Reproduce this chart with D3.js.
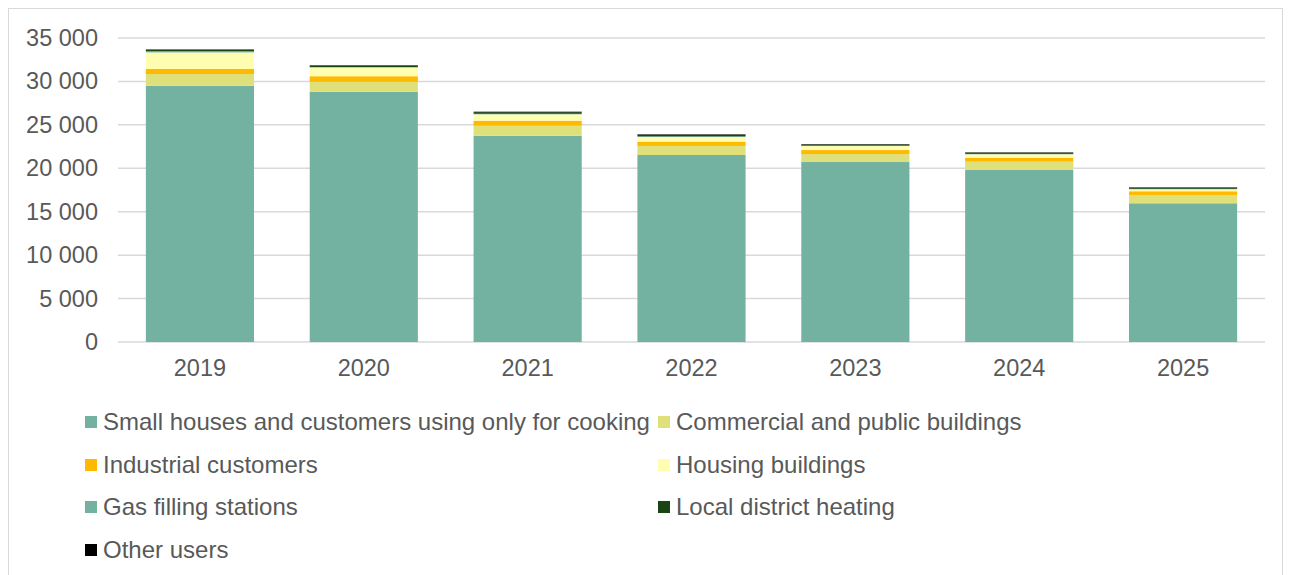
<!DOCTYPE html>
<html>
<head>
<meta charset="utf-8">
<script src="https://cdn.jsdelivr.net/npm/d3@7"></script>
<style>
  html, body { margin: 0; padding: 0; background: #fff; }
  svg { display: block; font-family: "Liberation Sans", Arial, sans-serif; }
</style>
</head>
<body>
<svg id="chart" width="1291" height="575"></svg>
<script>
// Gas consumption by customer group, stacked per year
const years = ["2019", "2020", "2021", "2022", "2023", "2024", "2025"];
const smallHouses     = [29500, 28800, 23750, 21530, 20720, 19800, 15970];
const commercial      = [1350, 1150, 1150, 1040, 920, 960, 960];
const industrial      = [580, 650, 575, 500, 460, 460, 425];
const housing         = [1910, 1000, 740, 540, 460, 390, 230];
const gasStations     = [140, 60, 60, 60, 50, 50, 50];
const districtHeating = [170, 170, 190, 200, 140, 140, 140];
const otherUsers      = [40, 40, 50, 50, 40, 40, 40];
const yTicks = [0, 5000, 10000, 15000, 20000, 25000, 30000, 35000];

const seriesNames = [
  "Small houses and customers using only for cooking",
  "Commercial and public buildings",
  "Industrial customers",
  "Housing buildings",
  "Gas filling stations",
  "Local district heating",
  "Other users"
];
const seriesValues = [smallHouses, commercial, industrial, housing, gasStations, districtHeating, otherUsers];
const colors = ["#73b1a1", "#dfe07a", "#ffb900", "#fffdb0", "#73b1a1", "#1a4316", "#000000"];

const rows = years.map((y, i) => {
  const r = { year: y };
  seriesNames.forEach((n, k) => { r[n] = seriesValues[k][i]; });
  return r;
});

const svg = d3.select("#chart");
const textColor = "#595959";
const gridColor = "#d9d9d9";
const axisFont = 23.5;
const legendFont = 24;

// outer frame
svg.append("rect")
  .attr("x", 8.5).attr("y", 8.5).attr("width", 1274).attr("height", 620)
  .attr("fill", "none").attr("stroke", gridColor).attr("stroke-width", 1);

const plot = { left: 118, right: 1265, top: 38, bottom: 342 };

const x = d3.scaleBand().domain(years).range([plot.left, plot.right]).paddingInner(0.34).paddingOuter(0.17);
const y = d3.scaleLinear().domain([0, 35000]).range([plot.bottom, plot.top]);

// gridlines
svg.append("g")
  .selectAll("line")
  .data(yTicks)
  .join("line")
  .attr("x1", plot.left).attr("x2", plot.right)
  .attr("y1", d => y(d)).attr("y2", d => y(d))
  .attr("stroke", gridColor).attr("stroke-width", 1.5);

// stacked bars
const stack = d3.stack().keys(seriesNames);
const layers = stack(rows);
svg.append("g")
  .selectAll("g")
  .data(layers)
  .join("g")
  .attr("fill", (d, i) => colors[i])
  .selectAll("rect")
  .data(d => d)
  .join("rect")
  .attr("x", d => x(d.data.year))
  .attr("width", x.bandwidth())
  .attr("y", d => y(d[1]))
  .attr("height", d => Math.max(0, y(d[0]) - y(d[1])));

// y axis labels
const yAxis = d3.axisLeft(y).tickValues(yTicks).tickSize(0).tickPadding(0)
  .tickFormat(d => d3.format(",")(d).replace(/,/g, " "));
const yg = svg.append("g").attr("transform", `translate(${plot.left - 20},0)`).call(yAxis);
yg.select(".domain").remove();
yg.selectAll("text").attr("fill", textColor).style("font-size", axisFont + "px")
  .style("font-family", "'Liberation Sans', Arial, sans-serif");

// x axis labels
const xAxis = d3.axisBottom(x).tickSize(0).tickPadding(0);
const xg = svg.append("g").attr("transform", `translate(0,${plot.bottom + 17})`).call(xAxis);
xg.select(".domain").remove();
xg.selectAll("text").attr("fill", textColor).style("font-size", axisFont + "px")
  .style("font-family", "'Liberation Sans', Arial, sans-serif");

// legend, two columns
const legendCols = [85, 658];
const legendRows = [422, 465, 507, 550];
const legend = svg.append("g")
  .selectAll("g")
  .data(seriesNames)
  .join("g")
  .attr("transform", (d, i) => `translate(${legendCols[i % 2]},${legendRows[Math.floor(i / 2)]})`);
legend.append("rect")
  .attr("x", 0).attr("y", -6).attr("width", 12).attr("height", 12)
  .attr("fill", (d, i) => colors[i]);
legend.append("text")
  .attr("x", 18).attr("y", 0).attr("dy", "0.35em")
  .attr("fill", textColor).style("font-size", legendFont + "px")
  .text(d => d);
</script>
</body>
</html>
